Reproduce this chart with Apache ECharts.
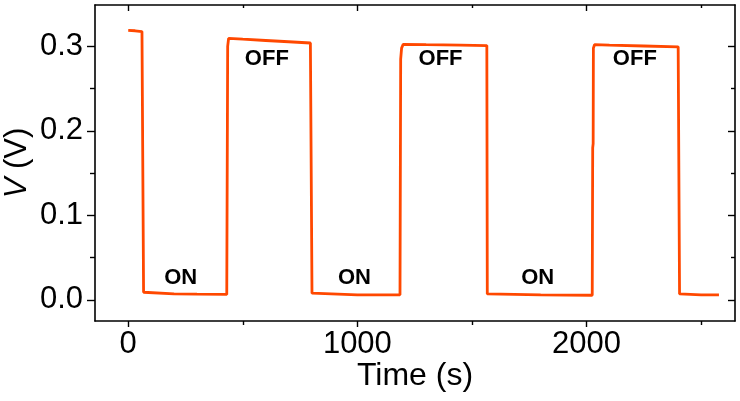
<!DOCTYPE html>
<html>
<head>
<meta charset="utf-8">
<script src="https://cdn.jsdelivr.net/npm/echarts@6/dist/echarts.min.js"></script>
<style>
html,body{margin:0;padding:0;background:#fff;}
#chart{width:740px;height:401px;}
</style>
</head>
<body>
<div id="chart"></div>
<script>
// Time (s) / Voltage (V) trace
var timeS = [0, 30, 60, 65, 67, 70, 200, 300, 430, 432, 434, 438, 500, 600, 700, 795, 800, 802,
  805, 1000, 1186, 1188, 1189, 1193, 1200, 1300, 1450, 1565, 1567,
  1570, 1800, 2025, 2026, 2027, 2029, 2030, 2035, 2100, 2250, 2400, 2404, 2406,
  2410, 2500, 2578];
var voltV = [0.319, 0.3185, 0.3175, 0.317, 0.009, 0.0078, 0.0072, 0.0068, 0.0065, 0.0065, 0.30, 0.3095, 0.3085, 0.307, 0.3055, 0.304, 0.304, 0.008,
  0.0065, 0.006, 0.006, 0.006, 0.285, 0.298, 0.3025, 0.302, 0.3015, 0.301, 0.007,
  0.0065, 0.006, 0.0055, 0.0055, 0.18, 0.185, 0.298, 0.302, 0.3015, 0.3005, 0.2995, 0.299, 0.007,
  0.0065, 0.006, 0.006];

// ON / OFF annotations
var noteText = ['ON', 'ON', 'ON', 'OFF', 'OFF', 'OFF'];
var noteTime = [229, 987, 1787, 605, 1363, 2211];
var noteVolt = [0.0262, 0.0262, 0.0262, 0.2855, 0.2855, 0.2855];

// axes
var xMin = -145, xMax = 2648;
var yMin = -0.025, yMax = 0.349;
var xMajorTicks = [0, 1000, 2000];
var xMinorTicks = [500, 1500, 2500];
var yMajorTicks = [0, 0.1, 0.2, 0.3];
var yMinorTicks = [0.05, 0.15, 0.25];

var FONT = "'Liberation Sans', Arial, Helvetica, sans-serif";
var lineData = timeS.map(function (t, i) { return [t, voltV[i]]; });
var noteData = noteText.map(function (s, i) { return [noteTime[i], noteVolt[i], s]; });

function xAx(pos, ticks, len, inside, showLine, labels) {
  return {
    type: 'value', position: pos, min: xMin, max: xMax,
    splitLine: {show: false},
    axisLine: {show: showLine, onZero: false, lineStyle: {color: '#000', width: 1.6}},
    axisTick: {show: true, inside: inside, length: len, customValues: ticks, lineStyle: {color: '#000', width: 1.4}},
    axisLabel: labels ? {show: true, customValues: xMajorTicks, color: '#000', fontSize: 31, fontFamily: FONT, margin: 8,
      formatter: function (v) { return String(Math.round(v)); }} : {show: false},
    name: labels ? 'Time (s)' : '',
    nameLocation: 'middle', nameGap: 39, nameMoveOverlap: false,
    nameTextStyle: {color: '#000', fontSize: 32, fontFamily: FONT}
  };
}
function yAx(pos, ticks, len, inside, showLine, labels) {
  return {
    type: 'value', position: pos, min: yMin, max: yMax,
    splitLine: {show: false},
    axisLine: {show: showLine, onZero: false, lineStyle: {color: '#000', width: 1.6}},
    axisTick: {show: true, inside: inside, length: len, customValues: ticks, lineStyle: {color: '#000', width: 1.4}},
    axisLabel: labels ? {show: true, customValues: yMajorTicks, color: '#000', fontSize: 31, fontFamily: FONT, margin: 12,
      formatter: function (v) { return v.toFixed(1); }} : {show: false},
    name: labels ? '{i|V} (V)' : '',
    nameLocation: 'middle', nameGap: 62, nameMoveOverlap: false,
    nameTextStyle: {color: '#000', fontSize: 31, fontFamily: FONT,
      rich: {i: {fontStyle: 'italic', fontSize: 31, fontFamily: FONT, color: '#000'}}}
  };
}

var chart = echarts.init(document.getElementById('chart'), null, {renderer: 'canvas'});
chart.setOption({
  animation: false,
  backgroundColor: '#fff',
  grid: {left: 95, right: 5, top: 5, bottom: 80, containLabel: false, outerBoundsMode: 'none'},
  xAxis: [
    xAx('bottom', xMajorTicks, 6, false, true, true),
    xAx('bottom', xMinorTicks, 4, false, false, false),
    xAx('top', xMajorTicks, 6, true, true, false),
    xAx('top', xMinorTicks, 3, true, false, false)
  ],
  yAxis: [
    yAx('left', yMajorTicks, 8, false, true, true),
    yAx('left', yMinorTicks, 5, false, false, false),
    yAx('right', yMajorTicks, 7, true, true, false),
    yAx('right', yMinorTicks, 4, true, false, false)
  ],
  series: [
    {
      type: 'line', xAxisIndex: 0, yAxisIndex: 0, data: lineData,
      showSymbol: false, symbol: 'none',
      lineStyle: {color: '#ff4800', width: 2.8}
    },
    {
      type: 'scatter', xAxisIndex: 0, yAxisIndex: 0, data: noteData,
      symbolSize: 0, silent: true, itemStyle: {opacity: 1},
      label: {show: true, position: 'inside', formatter: function (p) { return p.data[2]; },
        color: '#000', opacity: 1, fontSize: 22, fontWeight: 'bold', fontFamily: FONT}
    }
  ]
});
</script>
</body>
</html>
